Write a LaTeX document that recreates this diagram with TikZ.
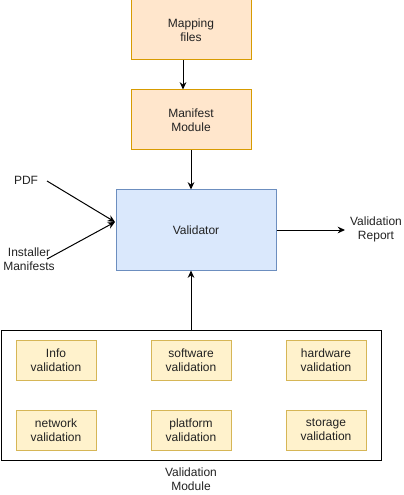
\documentclass[tikz,border=0pt]{standalone}
\usepackage{fontspec}
\setmainfont{Liberation Sans}
\usetikzlibrary{arrows.meta}

\definecolor{orangefill}{HTML}{FFE6CC}
\definecolor{orangeline}{HTML}{D79B00}
\definecolor{bluefill}{HTML}{DAE8FC}
\definecolor{blueline}{HTML}{6C8EBF}
\definecolor{yellowfill}{HTML}{FFF2CC}
\definecolor{yellowline}{HTML}{D6B656}
\definecolor{textgray}{HTML}{222222}

\begin{document}
\begin{tikzpicture}[x=0.75pt, y=-0.75pt, line width=0.75pt,
    nodes={font=\fontsize{9}{10.5}\selectfont, text=textgray, align=center, inner sep=0},
    mapbox/.style={draw=orangeline, fill=orangefill, minimum width=90pt, minimum height=45pt},
    valbox/.style={draw=blueline, fill=bluefill, minimum width=120pt, minimum height=60pt},
    checkbox/.style={draw=yellowline, fill=yellowfill, minimum width=60pt, minimum height=30pt},
    arrow/.style={-{Stealth[length=5.5pt, width=5pt]}}]
                \useasboundingbox (0,0) rectangle (403,495);

                \node (mapping) [mapbox] at (191,30) {Mapping\\files};
                \node (manifest) [mapbox] at (191,120) {Manifest\\Module};
                \node (validator) [valbox] at (196,230) {Validator};

                \node (pdf) at (26,180) {PDF};
                \node (installer) at (29,259) {Installer\\Manifests};
                \node (report) at (376,229) {Validation\\Report};
                \coordinate (inlet) at (115,222);

                % validation module with its checks
                \node (vmod) [draw=black, minimum width=285pt, minimum height=97.5pt] at (191,395) {};
                \node (vmodlabel) at (191,479) {Validation\\Module};

                \node (info) [checkbox] at (56,360) {Info\\validation};
                \node (software) [checkbox] at (191,360) {software\\validation};
                \node (hardware) [checkbox] at (326,360) {hardware\\validation};
                \node (network) [checkbox] at (56,430) {network\\validation};
                \node (platform) [checkbox] at (191,430) {platform\\validation};
                \node (storage) [checkbox] at (326,430) {storage\\validation};

                \draw [arrow] (mapping.south -| 183,0) -- (manifest.north -| 183,0);
                \draw [arrow] (manifest.south) -- (validator.north -| manifest.south);
                \draw [arrow] (47,181) -- (inlet);
                \draw [arrow] (47,259) -- (inlet);
                \draw [arrow] (validator.east) -- (345,230);
                \draw [arrow] (vmod.north) -- (validator.south -| vmod.north);
            \end{tikzpicture}
\end{document}
